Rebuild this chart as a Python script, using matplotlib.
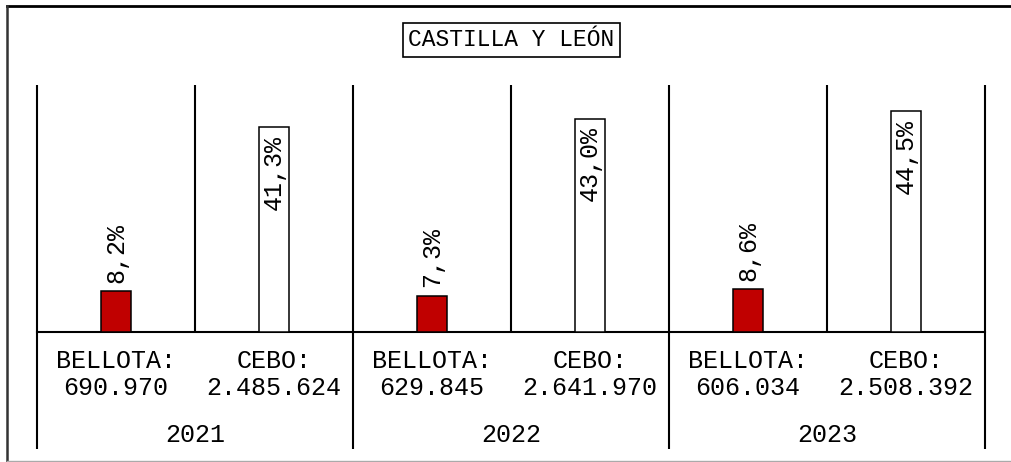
import matplotlib
matplotlib.use("Agg")
import matplotlib.pyplot as plt
from matplotlib.lines import Line2D
from matplotlib.transforms import blended_transform_factory

# ── Data ────────────────────────────────────────────────────────────────────
years = ["2021", "2022", "2023"]
bellota_pct = [8.2, 7.3, 8.6]
cebo_pct = [41.3, 43.0, 44.5]
bellota_heads = ["690.970", "629.845", "606.034"]
cebo_heads = ["2.485.624", "2.641.970", "2.508.392"]
region = "CASTILLA Y LEÓN"

RED = "#C00000"
FONT = "Liberation Mono"
FS = 18
W, H = 1011, 462

fig = plt.figure(figsize=(W / 100, H / 100), dpi=100, facecolor="white")

# plot area: x 37..985 px, y baseline 332 px, top 85 px
ax = fig.add_axes([37 / W, 1 - 332 / H, (985 - 37) / W, (332 - 85) / H])
ax.set_xlim(0, 6)
ax.set_ylim(0, 49.8)
ax.axis("off")

x_bel = [2 * i + 0.5 for i in range(len(years))]
x_ceb = [2 * i + 1.5 for i in range(len(years))]
bw = 0.19

ax.bar(x_bel, bellota_pct, width=bw, color=RED, edgecolor="black", linewidth=1.1, zorder=3)
ax.bar(x_ceb, cebo_pct, width=bw, color="white", edgecolor="black", linewidth=1.1, zorder=3)

def pct(v):
    return f"{v:.1f}%".replace(".", ",")

for x, v in zip(x_bel, bellota_pct):
    ax.annotate(pct(v), (x, v), xytext=(0, 6), textcoords="offset points",
                rotation=90, ha="center", va="bottom", fontsize=FS, family=FONT)
for x, v in zip(x_ceb, cebo_pct):
    ax.annotate(pct(v), (x, v), xytext=(0, -5.5), textcoords="offset points",
                rotation=90, ha="center", va="top", fontsize=FS, family=FONT, zorder=4)

# baseline and dividers
ax.axhline(0, color="black", lw=1.5, zorder=2, clip_on=False)
lo = -(449 - 332) / ((332 - 85) / 49.8)
ax.vlines([0, 2, 4, 6], lo, 49.8, colors="black", lw=1.5, clip_on=False)
ax.vlines([1, 3, 5], 0, 49.8, colors="black", lw=1.5, clip_on=False)

# category labels below (x in data, y in figure pixels)
tr = blended_transform_factory(ax.transData, fig.transFigure)
def fy(py):
    return 1 - py / H

for i, yr in enumerate(years):
    ax.text(x_bel[i], fy(361), "BELLOTA:", transform=tr, ha="center", va="center",
            fontsize=FS, family=FONT)
    ax.text(x_bel[i], fy(388), bellota_heads[i], transform=tr, ha="center", va="center",
            fontsize=FS, family=FONT)
    ax.text(x_ceb[i], fy(361), "CEBO:", transform=tr, ha="center", va="center",
            fontsize=FS, family=FONT)
    ax.text(x_ceb[i], fy(388), cebo_heads[i], transform=tr, ha="center", va="center",
            fontsize=FS, family=FONT)
    ax.text(2 * i + 1, fy(435), yr, transform=tr, ha="center", va="center",
            fontsize=FS, family=FONT)

# title box
fig.text(511.5 / W, fy(40), region, ha="center", va="center", fontsize=16.5, family=FONT,
         bbox=dict(boxstyle="square,pad=0.25", facecolor="white", edgecolor="black", lw=1.2))

# outer frame
fig.add_artist(Line2D([7 / W, 1], [fy(6), fy(6)], color="black", lw=2))
fig.add_artist(Line2D([7 / W, 7 / W], [fy(6), fy(461)], color="#333333", lw=1.8))
fig.add_artist(Line2D([7 / W, 1], [fy(461), fy(461)], color="#aaaaaa", lw=1))

fig.savefig("out.png", dpi=100, facecolor="white")
